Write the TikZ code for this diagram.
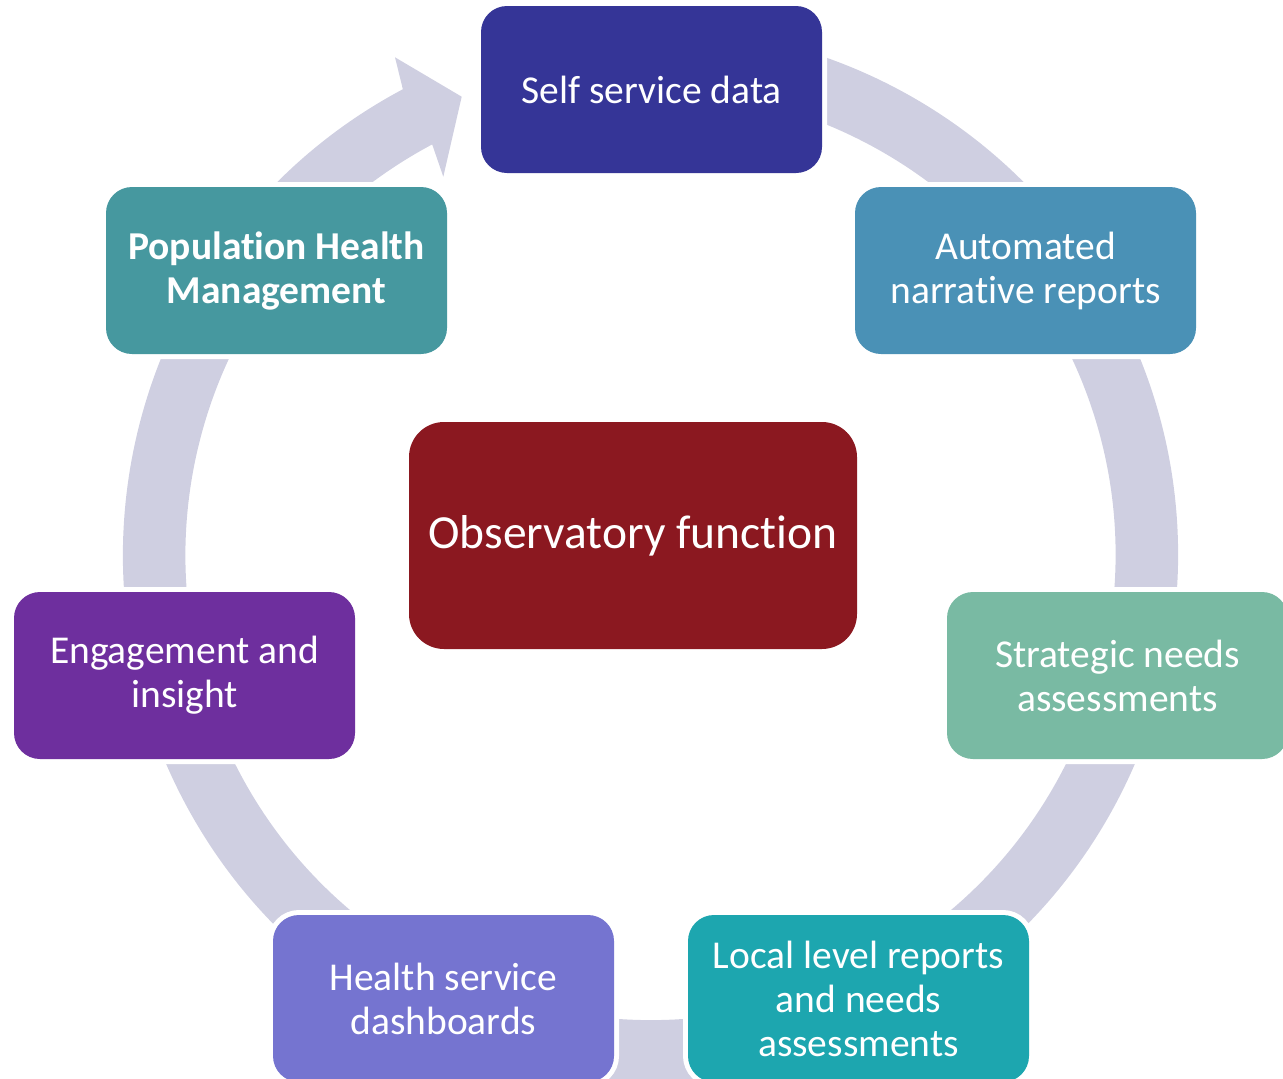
\documentclass[tikz,border=0pt]{standalone}
\usepackage{fontspec}
\setmainfont{Carlito}[RawFeature={-liga;-clig;-dlig}]
\usetikzlibrary{calc}

% palette
\definecolor{ringc}{RGB}{207,207,225}
\definecolor{selfc}{RGB}{53,53,151}
\definecolor{autoc}{RGB}{74,145,182}
\definecolor{stratc}{RGB}{121,186,163}
\definecolor{localc}{RGB}{29,166,175}
\definecolor{healthc}{RGB}{117,116,208}
\definecolor{engc}{RGB}{110,47,158}
\definecolor{phmc}{RGB}{70,152,159}
\definecolor{obsc}{RGB}{139,24,32}

\begin{document}
\begin{tikzpicture}[x=1pt, y=-1pt,
  cyclebox/.style={rounded corners=26pt, minimum width=341pt, minimum height=167pt,
    inner sep=0pt, align=center, text=white,
    font=\fontsize{39.5}{44}\selectfont,
    fill=#1, preaction={draw=white, line width=10pt}},
  hubbox/.style={rounded corners=35pt, minimum width=448pt, minimum height=227pt,
    inner sep=0pt, align=center, text=white,
    font=\fontsize{47.5}{54}\selectfont, fill=obsc},
]
\useasboundingbox (0,0) rectangle (1283,1079);
\clip (0,0) rectangle (1283,1079);

% ring of the cycle
\coordinate (C) at (650.5,555);
\draw[ringc, line width=62.5pt]
  (C) ++(-117:496.25) arc[start angle=-117, end angle=-460, radius=496.25];

% arrowhead closing the cycle
\coordinate (ahout) at ($(C)+(-118:527.5)$);
\coordinate (ahin)  at ($(C)+(-118:465)$);
\coordinate (abarbtop) at (395,57.3);
\coordinate (atip) at (461.7,96.7);
\coordinate (abarbbot) at (443.3,176.7);
\fill[ringc] (ahout) -- (abarbtop) -- (atip) -- (abarbbot) -- (ahin) -- cycle;

% stages
\node[cyclebox=selfc]   (self)   at (651.5,89.5)   {Self service data};
\node[cyclebox=autoc]   (auto)   at (1025.5,270.5) {Automated\\narrative reports};
\node[cyclebox=stratc]  (strat)  at (1117.5,675.5) {Strategic needs\\assessments};
\node[cyclebox=localc]  (local)  at (858.5,998.5)  {Local level reports\\and needs\\assessments};
\node[cyclebox=healthc] (health) at (443.5,998.5)  {Health service\\dashboards};
\node[cyclebox=engc]    (eng)    at (184.5,675.5)  {Engagement and\\insight};
\node[cyclebox=phmc, font=\fontsize{39.5}{44}\selectfont\bfseries]
                        (phm)    at (276.5,270.5)  {Population Health\\Management};

% hub
\node[hubbox] (obs) at (633,535.5) {Observatory function};
\end{tikzpicture}
\end{document}
